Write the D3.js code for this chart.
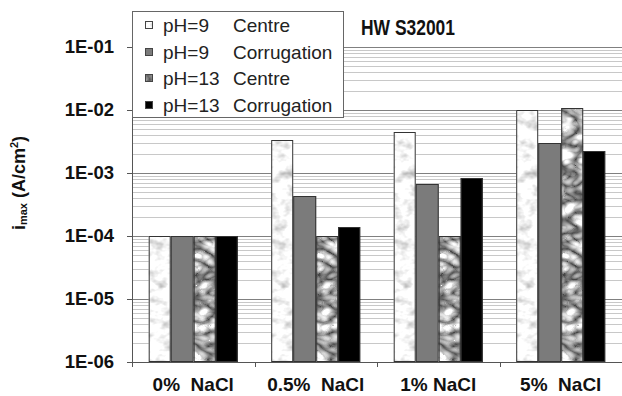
<!DOCTYPE html>
<html>
<head>
<meta charset="utf-8">
<script src="https://cdn.jsdelivr.net/npm/d3@7"></script>
<style>
  body { margin: 0; background: #fff; }
  svg { display: block; font-family: "Liberation Sans", Arial, sans-serif; }
</style>
</head>
<body>
<svg id="chart" width="622" height="396"></svg>
<script>
// values (A/cm2)
const categories = ['0%  NaCl', '0.5%  NaCl', '1% NaCl', '5%  NaCl'];
const seriesKeys = ['ph9Centre', 'ph9Corr', 'ph13Centre', 'ph13Corr'];
const seriesLabels = [['pH=9', 'Centre'], ['pH=9', 'Corrugation'], ['pH=13', 'Centre'], ['pH=13', 'Corrugation']];
const ph9Centre  = [1e-4, 3.3e-3, 4.4e-3, 1.0e-2];
const ph9Corr    = [1e-4, 4.3e-4, 6.6e-4, 2.95e-3];
const ph13Centre = [1e-4, 1e-4,   1e-4,   1.09e-2];
const ph13Corr   = [1e-4, 1.4e-4, 8.4e-4, 2.24e-3];
const yTicks = [1e-1, 1e-2, 1e-3, 1e-4, 1e-5, 1e-6];
const yTickLabels = ['1E-01', '1E-02', '1E-03', '1E-04', '1E-05', '1E-06'];

const values = { ph9Centre, ph9Corr, ph13Centre, ph13Corr };
const fills = { ph9Centre: '#fff', ph9Corr: '#7b7b7b', ph13Centre: '#fff', ph13Corr: '#000' };

const svg = d3.select('#chart');
const m = { left: 132, right: 622, top: 47, bottom: 362 };

// textures via turbulence filters (sRGB so the greys come out as set)
const defs = svg.append('defs');
function texture(id, type, freq, octaves, seed, k, b) {
  const f = defs.append('filter').attr('id', id)
    .attr('x', 0).attr('y', 0).attr('width', 1).attr('height', 1)
    .attr('color-interpolation-filters', 'sRGB');
  f.append('feTurbulence').attr('type', type).attr('baseFrequency', freq)
    .attr('numOctaves', octaves).attr('seed', seed).attr('result', 'n');
  const row = `${k} 0 0 0 ${b}`;
  f.append('feColorMatrix').attr('in', 'n').attr('type', 'matrix')
    .attr('values', `${row}  ${row}  ${row}  0 0 0 0 1`).attr('result', 'g');
  f.append('feComposite').attr('in', 'g').attr('in2', 'SourceGraphic').attr('operator', 'in');
}
texture('lightF', 'fractalNoise', '0.07 0.1', 3, 4, 0.7, 0.62);
texture('darkF', 'turbulence', '0.05 0.075', 2, 9, 1.4, 0.28);
const filters = { ph9Centre: 'url(#lightF)', ph13Centre: 'url(#darkF)' };

const y = d3.scaleLog().domain([1e-6, 1e-1]).range([m.bottom, m.top]);
const x = d3.scaleBand().domain(categories).range([m.left, m.right])
  .paddingInner(1.5 / 5.5).paddingOuter(0.75 / 5.5);
const xs = d3.scaleBand().domain(seriesKeys).range([0, x.bandwidth()]);

// gridlines
const minor = [];
for (let e = -6; e < -1; e++) for (let k = 2; k <= 9; k++) minor.push(k * Math.pow(10, e));
svg.append('g').selectAll('line').data(minor).join('line')
  .attr('x1', m.left).attr('x2', m.right)
  .attr('y1', d => Math.round(y(d)) + 0.5).attr('y2', d => Math.round(y(d)) + 0.5)
  .attr('stroke', '#c8c8c8').attr('stroke-width', 1);
svg.append('g').selectAll('line').data(yTicks.slice(0, 5)).join('line')
  .attr('x1', m.left).attr('x2', m.right)
  .attr('y1', d => Math.round(y(d)) + 0.5).attr('y2', d => Math.round(y(d)) + 0.5)
  .attr('stroke', '#808080').attr('stroke-width', 1.2);

// bars
const groups = svg.append('g').selectAll('g').data(categories).join('g')
  .attr('transform', d => `translate(${x(d)},0)`);
groups.each(function (cat, ci) {
  const g = d3.select(this);
  seriesKeys.forEach(k => {
    const v = values[k][ci];
    const x0 = Math.round(xs(k)), x1 = Math.round(xs(k) + xs.bandwidth());
    const r = { x: x0, y: Math.round(y(v)), w: x1 - x0, h: Math.round(y(1e-6)) - Math.round(y(v)) };
    g.append('rect').attr('x', r.x).attr('y', r.y).attr('width', r.w).attr('height', r.h)
      .attr('fill', fills[k]).attr('filter', filters[k] || null);
    g.append('rect').attr('x', r.x + 0.5).attr('y', r.y + 0.5).attr('width', r.w - 1).attr('height', r.h - 1)
      .attr('fill', 'none').attr('stroke', '#333').attr('stroke-width', 1);
  });
});

// axes
const yAxis = d3.axisLeft(y).tickValues(yTicks).tickSize(5).tickPadding(13)
  .tickFormat((d, i) => yTickLabels[i]);
const ya = svg.append('g').attr('transform', `translate(${m.left},0)`).call(yAxis);
ya.select('.domain').attr('stroke', '#555');
ya.selectAll('.tick line').attr('stroke', '#555');
ya.selectAll('.tick text').attr('font-size', 18.5).attr('font-weight', 'bold').attr('fill', '#111')
  .attr('font-family', '"Liberation Sans", Arial, sans-serif');

const xa = svg.append('g').attr('transform', `translate(0,${m.bottom})`);
xa.append('line').attr('x1', m.left).attr('x2', m.right).attr('y1', 0.5).attr('y2', 0.5).attr('stroke', '#555');
xa.selectAll('line.cb').data(d3.range(categories.length + 1)).join('line').attr('class', 'cb')
  .attr('x1', i => Math.round(m.left + i * x.step()) + 0.5).attr('x2', i => Math.round(m.left + i * x.step()) + 0.5)
  .attr('y1', 0).attr('y2', 5).attr('stroke', '#555');
xa.selectAll('text').data(categories).join('text')
  .attr('x', d => x(d) + x.bandwidth() / 2).attr('y', 29)
  .attr('text-anchor', 'middle').attr('font-size', 19).attr('font-weight', 'bold').attr('fill', '#111')
  .style('white-space', 'pre').text(d => d);

// y title
const yt = svg.append('text').attr('transform', 'translate(25,183) rotate(-90)')
  .attr('text-anchor', 'middle').attr('font-size', 18).attr('font-weight', 'bold').attr('fill', '#111')
  .style('white-space', 'pre');
yt.append('tspan').text('i');
yt.append('tspan').attr('font-size', 11).attr('dy', 2).text('max');
yt.append('tspan').attr('dy', -2).text(' (A/cm');
yt.append('tspan').attr('font-size', 11).attr('dy', -7).text('2');
yt.append('tspan').attr('dy', 7).text(')');

// title
svg.append('text').attr('x', 361).attr('y', 35)
  .attr('font-family', '"Liberation Sans Narrow", "Arial Narrow", "Liberation Sans", sans-serif')
  .attr('font-size', 22).attr('font-weight', 'bold').attr('fill', '#111')
  .attr('textLength', 94).attr('lengthAdjust', 'spacingAndGlyphs').text('HW S32001');

// legend
const lg = svg.append('g');
lg.append('rect').attr('x', 132.5).attr('y', 11.5).attr('width', 211).attr('height', 106)
  .attr('fill', '#fff').attr('stroke', '#666');
seriesKeys.forEach((k, i) => {
  const cy = Math.round(25 + i * 26.7);
  lg.append('rect').attr('x', 145).attr('y', cy - 4).attr('width', 8).attr('height', 8)
    .attr('fill', fills[k]).attr('filter', filters[k] || null);
  lg.append('rect').attr('x', 145.5).attr('y', cy - 3.5).attr('width', 7).attr('height', 7)
    .attr('fill', 'none').attr('stroke', '#444');
  lg.append('text').attr('x', 163).attr('y', cy + 7).attr('font-size', 19).attr('fill', '#222').text(seriesLabels[i][0]);
  lg.append('text').attr('x', 233).attr('y', cy + 7).attr('font-size', 19).attr('fill', '#222').text(seriesLabels[i][1]);
});
</script>
</body>
</html>
